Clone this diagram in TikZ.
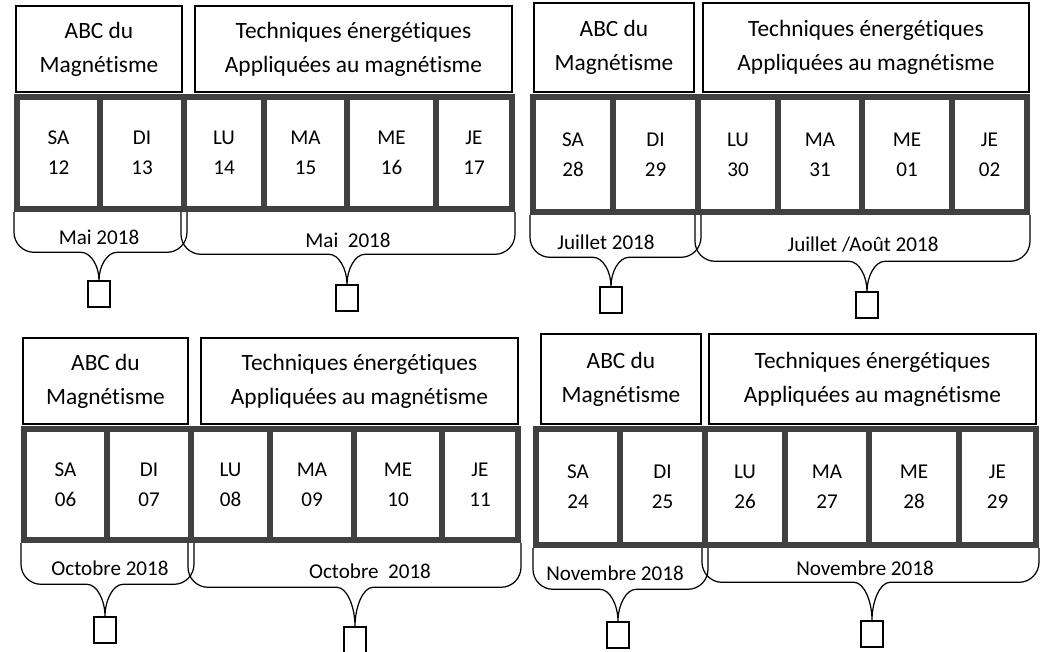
\documentclass[tikz,border=0pt]{standalone}
\usepackage{fontspec}
\setmainfont{Carlito}[Ligatures = {NoCommon, NoContextual}]
\usetikzlibrary{calc}

\begin{document}
\begin{tikzpicture}[
        x = .2mm,
        y = -.2mm,
        head/.style = {draw, line width = .9pt, minimum height = 17.2mm,
            align = center, font = \fontsize{13.3}{19.3}\selectfont},
        day/.style = {draw = black!75, line width = 1.2mm, align = center,
            font = \fontsize{12}{17}\selectfont},
        month/.style = {font = \fontsize{12}{14}\selectfont},
        tick/.style = {draw, line width = .8pt, minimum width = 4.4mm,
            minimum height = 5.2mm, inner sep = 0pt},
        brace/.style = {line width = .7pt},
        halfbrace/.style = {to path = {let \p1 = (\tikztostart), \p2 = (\tikztotarget),
            \n1 = {ifthenelse(\x2 > \x1, 1, -1)} in
            -- ({\x1}, {\y2 + #1 + 4mm})
            .. controls ({\x1}, {\y2 + #1 + 1.8mm}) and ({\x1 + \n1*1.8mm}, {\y2 + #1}) .. ({\x1 + \n1*4mm}, {\y2 + #1})
            -- ({\x2 - \n1*3.6mm}, {\y2 + #1})
            .. controls ({\x2 - \n1*1.6mm}, {\y2 + #1}) and ({\x2}, {\y2 + .5*#1}) .. (\tikztotarget)}}
    ]
    \useasboundingbox (0,0) rectangle (1063,652);

    % Mai 2018
    \begin{scope}[shift = {(17,97)}]
        \node[head, minimum width = 33.2mm] (mabc) at (82,-48) {ABC du\\Magnétisme};
        \node[head, minimum width = 63.4mm] (mtech) at (336.5,-48) {Techniques énergétiques\\Appliquées au magnétisme};
        \foreach \xa/\xb/\dname/\dnum [count = \i] in {0/83/SA/12, 83/167/DI/13, 167/247/LU/14, 247/330/MA/15, 330/419/ME/16, 419/495/JE/17}
            \node[day, minimum width = {(\xb - \xa)*.2mm}, minimum height = 22.4mm] (m\i) at ({(\xa + \xb)/2}, 56) {\dname\\\dnum};
        \node[month] (mlab1) at (82,140) {Mai 2018};
        \node[month] (mlab2) at (331,143) {Mai~~2018};
        \node[tick] (mbox1) at (82,197) {};
        \node[tick] (mbox2) at (330,201) {};
        \draw[brace] (m1.south west) to[halfbrace = 5.6mm] (mbox1.north)
            (m2.south east) to[halfbrace = 5.6mm] (mbox1.north);
        \draw[brace] (m3.south west) to[halfbrace = 6mm] (mbox2.north)
            (m6.south east) to[halfbrace = 6mm] (mbox2.north);
    \end{scope}

    % Juillet 2018
    \begin{scope}[shift = {(533,97)}]
        \node[head, minimum width = 32mm, minimum height = 17.8mm] (jabc) at (81,-49.5) {ABC du\\Magnétisme};
        \node[head, minimum width = 65.2mm, minimum height = 17.8mm] (jtech) at (333,-49.5) {Techniques énergétiques\\Appliquées au magnétisme};
        \foreach \xa/\xb/\dname/\dnum [count = \i] in {0/80/SA/28, 80/165/DI/29, 165/245/LU/30, 245/329/MA/31, 329/419/ME/01, 419/494/JE/02}
            \node[day, minimum width = {(\xb - \xa)*.2mm}, minimum height = 23mm] (j\i) at ({(\xa + \xb)/2}, 57.5) {\dname\\\dnum};
        \node[month] (jlab1) at (73,145) {Juillet 2018};
        \node[month] (jlab2) at (330,148) {Juillet /Août 2018};
        \node[tick] (jbox1) at (78,203) {};
        \node[tick] (jbox2) at (334,208) {};
        \draw[brace] (j1.south west) to[halfbrace = 5.8mm] (jbox1.north)
            (j2.south east) to[halfbrace = 5.8mm] (jbox1.north);
        \draw[brace] (j3.south west) to[halfbrace = 6mm] (jbox2.north)
            (j6.south east) to[halfbrace = 6mm] (jbox2.north);
    \end{scope}

    % Octobre 2018
    \begin{scope}[shift = {(24,429)}]
        \node[head, minimum width = 33mm] (oabc) at (81.5,-48) {ABC du\\Magnétisme};
        \node[head, minimum width = 63.4mm] (otech) at (335.5,-48) {Techniques énergétiques\\Appliquées au magnétisme};
        \foreach \xa/\xb/\dname/\dnum [count = \i] in {0/83/SA/06, 83/167/DI/07, 167/246/LU/08, 246/330/MA/09, 330/418/ME/10, 418/494/JE/11}
            \node[day, minimum width = {(\xb - \xa)*.2mm}, minimum height = 22.2mm] (o\i) at ({(\xa + \xb)/2}, 55.5) {\dname\\\dnum};
        \node[month] (olab1) at (86,139) {Octobre 2018};
        \node[month] (olab2) at (346,142) {Octobre~~2018};
        \node[tick] (obox1) at (81,201) {};
        \node[tick] (obox2) at (331,211) {};
        \draw[brace] (o1.south west) to[halfbrace = 6.4mm] (obox1.north)
            (o2.south east) to[halfbrace = 6.4mm] (obox1.north);
        \draw[brace] (o3.south west) to[halfbrace = 7.8mm] (obox2.north)
            (o6.south east) to[halfbrace = 7.8mm] (obox2.north);
    \end{scope}

    % Novembre 2018
    \begin{scope}[shift = {(536,429)}]
        \node[head, minimum width = 32mm, minimum height = 18mm] (nabc) at (85,-50) {ABC du\\Magnétisme};
        \node[head, minimum width = 65.4mm, minimum height = 18mm] (ntech) at (336.5,-50) {Techniques énergétiques\\Appliquées au magnétisme};
        \foreach \xa/\xb/\dname/\dnum [count = \i] in {0/84/SA/24, 84/169/DI/25, 169/249/LU/26, 249/333/MA/27, 333/423/ME/28, 423/500/JE/29}
            \node[day, minimum width = {(\xb - \xa)*.2mm}, minimum height = 23.2mm] (n\i) at ({(\xa + \xb)/2}, 58) {\dname\\\dnum};
        \node[month] (nlab1) at (79,144) {Novembre 2018};
        \node[month] (nlab2) at (329,139) {Novembre 2018};
        \node[tick] (nbox1) at (82,206) {};
        \node[tick] (nbox2) at (336,205) {};
        \draw[brace] (n1.south west) to[halfbrace = 6.4mm] (nbox1.north)
            (n2.south east) to[halfbrace = 6.4mm] (nbox1.north);
        \draw[brace] (n3.south west) to[halfbrace = 7.6mm] (nbox2.north)
            (n6.south east) to[halfbrace = 7.6mm] (nbox2.north);
    \end{scope}
\end{tikzpicture}
\end{document}
